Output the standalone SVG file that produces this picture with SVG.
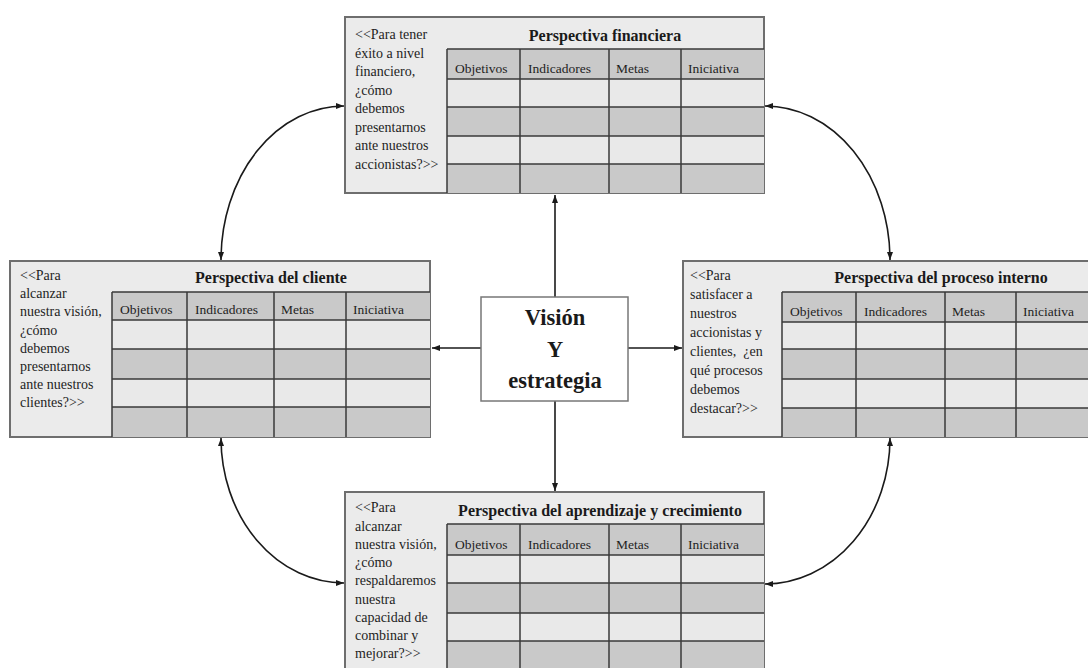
<svg xmlns="http://www.w3.org/2000/svg" width="1088" height="668" viewBox="0 0 1088 668">
<style>
.bg{fill:#ffffff}
.box{fill:#ebebeb;stroke:#6e6e6e;stroke-width:2}
.hdr{fill:#c9c9c9}
.lt{fill:#e9e9e9}
.dk{fill:#c9c9c9}
.grid{stroke:#3a3a3a;stroke-width:1.5;fill:none}
.side{font-family:"Liberation Serif","Times New Roman",serif;font-size:14px;fill:#1e1e1e}
.col{font-family:"Liberation Serif","Times New Roman",serif;font-size:13.5px;fill:#1e1e1e}
.title{font-family:"Liberation Serif","Times New Roman",serif;font-size:16px;font-weight:bold;fill:#1a1a1a;text-anchor:middle}
.center{fill:#ffffff;stroke:#777;stroke-width:1.5}
.ctext{font-family:"Liberation Serif","Times New Roman",serif;font-size:22.5px;font-weight:bold;fill:#1a1a1a;text-anchor:middle}
.conn{stroke:#1a1a1a;stroke-width:1.6;fill:none}
</style>
<defs>
<marker id="arr" viewBox="0 0 8 6" refX="8" refY="3" markerWidth="8" markerHeight="6" markerUnits="userSpaceOnUse" orient="auto-start-reverse">
<path d="M0,0 L8,3 L0,6 z" fill="#1a1a1a"/>
</marker>
</defs>
<rect class="bg" x="0" y="0" width="1088" height="668"/>

<g id="connectors">
<path class="conn" d="M555,297 L555,195" marker-end="url(#arr)"/>
<path class="conn" d="M555,401 L555,491" marker-end="url(#arr)"/>
<path class="conn" d="M481,348 L432,348" marker-end="url(#arr)"/>
<path class="conn" d="M628,348 L682,348" marker-end="url(#arr)"/>
<path class="conn" d="M221,260 A123,154 0 0 1 344,106" marker-start="url(#arr)" marker-end="url(#arr)"/>
<path class="conn" d="M765,106 A125,154 0 0 1 890,260" marker-start="url(#arr)" marker-end="url(#arr)"/>
<path class="conn" d="M221,438 A123,145 0 0 0 344,583" marker-start="url(#arr)" marker-end="url(#arr)"/>
<path class="conn" d="M890,438 A125,146 0 0 1 765,584" marker-start="url(#arr)" marker-end="url(#arr)"/>
</g>

<g id="financiera">
<rect class="box" x="345" y="17" width="419" height="176"/>
<rect class="hdr" x="447" y="49" width="317" height="30"/>
<rect class="lt" x="447" y="79" width="317" height="28"/>
<rect class="dk" x="447" y="107" width="317" height="29"/>
<rect class="lt" x="447" y="136" width="317" height="28"/>
<rect class="dk" x="447" y="164" width="317" height="29"/>
<path class="grid" d="M447,49 H764 M447,79 H764 M447,107 H764 M447,136 H764 M447,164 H764 M447,49 V193 M520,49 V193 M609,49 V193 M681,49 V193"/>
<text class="title" x="605" y="41">Perspectiva financiera</text>
<text class="col" x="455" y="73">Objetivos</text>
<text class="col" x="528" y="73">Indicadores</text>
<text class="col" x="616" y="73">Metas</text>
<text class="col" x="688" y="73">Iniciativa</text>
<text class="side" x="355" y="39">&lt;&lt;Para tener</text>
<text class="side" x="355" y="57.5">éxito a nivel</text>
<text class="side" x="355" y="76">financiero,</text>
<text class="side" x="355" y="94.5">¿cómo</text>
<text class="side" x="355" y="113">debemos</text>
<text class="side" x="355" y="131.5">presentarnos</text>
<text class="side" x="355" y="150">ante nuestros</text>
<text class="side" x="355" y="168.5">accionistas?&gt;&gt;</text>
</g>

<g id="cliente">
<rect class="box" x="10" y="261" width="420" height="176"/>
<rect class="hdr" x="112" y="292" width="318" height="28"/>
<rect class="lt" x="112" y="320" width="318" height="29"/>
<rect class="dk" x="112" y="349" width="318" height="30"/>
<rect class="lt" x="112" y="379" width="318" height="28"/>
<rect class="dk" x="112" y="407" width="318" height="30"/>
<path class="grid" d="M112,292 H430 M112,320 H430 M112,349 H430 M112,379 H430 M112,407 H430 M112,292 V437 M187,292 V437 M274,292 V437 M346,292 V437"/>
<text class="title" x="271" y="283">Perspectiva del cliente</text>
<text class="col" x="120" y="314">Objetivos</text>
<text class="col" x="195" y="314">Indicadores</text>
<text class="col" x="281" y="314">Metas</text>
<text class="col" x="353" y="314">Iniciativa</text>
<text class="side" x="20" y="280">&lt;&lt;Para</text>
<text class="side" x="20" y="298">alcanzar</text>
<text class="side" x="20" y="316">nuestra visión,</text>
<text class="side" x="20" y="334.5">¿cómo</text>
<text class="side" x="20" y="352.5">debemos</text>
<text class="side" x="20" y="370.5">presentarnos</text>
<text class="side" x="20" y="388.5">ante nuestros</text>
<text class="side" x="20" y="406.5">clientes?&gt;&gt;</text>
</g>

<g id="proceso">
<rect class="box" x="683" y="261" width="417" height="176"/>
<rect class="hdr" x="782" y="292" width="318" height="30"/>
<rect class="lt" x="782" y="322" width="318" height="27"/>
<rect class="dk" x="782" y="349" width="318" height="30"/>
<rect class="lt" x="782" y="379" width="318" height="29"/>
<rect class="dk" x="782" y="408" width="318" height="29"/>
<path class="grid" d="M782,292 H1100 M782,322 H1100 M782,349 H1100 M782,379 H1100 M782,408 H1100 M782,292 V437 M856,292 V437 M945,292 V437 M1016,292 V437"/>
<text class="title" x="941" y="283">Perspectiva del proceso interno</text>
<text class="col" x="790" y="316">Objetivos</text>
<text class="col" x="864" y="316">Indicadores</text>
<text class="col" x="952" y="316">Metas</text>
<text class="col" x="1023" y="316">Iniciativa</text>
<text class="side" x="690" y="280">&lt;&lt;Para</text>
<text class="side" x="690" y="299">satisfacer a</text>
<text class="side" x="690" y="318">nuestros</text>
<text class="side" x="690" y="337">accionistas y</text>
<text class="side" x="690" y="356" style="white-space:pre">clientes,  ¿en</text>
<text class="side" x="690" y="375">qué procesos</text>
<text class="side" x="690" y="394">debemos</text>
<text class="side" x="690" y="413">destacar?&gt;&gt;</text>
</g>

<g id="aprendizaje">
<rect class="box" x="345" y="492" width="419" height="200"/>
<rect class="hdr" x="447" y="524" width="317" height="31"/>
<rect class="lt" x="447" y="555" width="317" height="28"/>
<rect class="dk" x="447" y="583" width="317" height="30"/>
<rect class="lt" x="447" y="613" width="317" height="28"/>
<rect class="dk" x="447" y="641" width="317" height="51"/>
<path class="grid" d="M447,524 H764 M447,555 H764 M447,583 H764 M447,613 H764 M447,641 H764 M447,524 V692 M520,524 V692 M609,524 V692 M681,524 V692"/>
<text class="title" x="600" y="516">Perspectiva del aprendizaje y crecimiento</text>
<text class="col" x="455" y="549">Objetivos</text>
<text class="col" x="528" y="549">Indicadores</text>
<text class="col" x="616" y="549">Metas</text>
<text class="col" x="688" y="549">Iniciativa</text>
<text class="side" x="355" y="512">&lt;&lt;Para</text>
<text class="side" x="355" y="530.5">alcanzar</text>
<text class="side" x="355" y="548.5">nuestra visión,</text>
<text class="side" x="355" y="567">¿cómo</text>
<text class="side" x="355" y="585">respaldaremos</text>
<text class="side" x="355" y="603.5">nuestra</text>
<text class="side" x="355" y="621.5">capacidad de</text>
<text class="side" x="355" y="640">combinar y</text>
<text class="side" x="355" y="658">mejorar?&gt;&gt;</text>
</g>

<g id="vision">
<rect class="center" x="481" y="297" width="147" height="104"/>
<text class="ctext" x="555" y="325">Visión</text>
<text class="ctext" x="555" y="357">Y</text>
<text class="ctext" x="555" y="388">estrategia</text>
</g>
</svg>
